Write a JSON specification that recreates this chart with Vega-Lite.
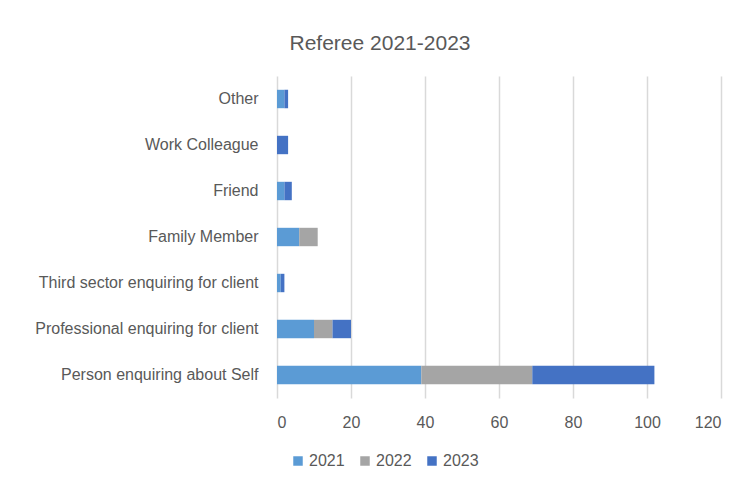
{
  "$schema": "https://vega.github.io/schema/vega-lite/v6.json",
  "width": 444,
  "height": 322,
  "autosize": {"type": "none"},
  "padding": {"left": 277, "top": 76, "right": 28, "bottom": 92},
  "background": "white",
  "title": {
    "text": "Referee 2021-2023",
    "fontSize": 21,
    "font": "Liberation Sans",
    "fontWeight": "normal",
    "color": "#595959",
    "anchor": "middle",
    "dx": -119,
    "offset": 22
  },
  "data": {
    "values": [
      {"referee": "Other", "year": "2021", "count": 2},
      {"referee": "Other", "year": "2022", "count": 0},
      {"referee": "Other", "year": "2023", "count": 1},
      {"referee": "Work Colleague", "year": "2021", "count": 0},
      {"referee": "Work Colleague", "year": "2022", "count": 0},
      {"referee": "Work Colleague", "year": "2023", "count": 3},
      {"referee": "Friend", "year": "2021", "count": 2},
      {"referee": "Friend", "year": "2022", "count": 0},
      {"referee": "Friend", "year": "2023", "count": 2},
      {"referee": "Family Member", "year": "2021", "count": 6},
      {"referee": "Family Member", "year": "2022", "count": 5},
      {"referee": "Family Member", "year": "2023", "count": 0},
      {"referee": "Third sector enquiring for client", "year": "2021", "count": 1},
      {"referee": "Third sector enquiring for client", "year": "2022", "count": 0},
      {"referee": "Third sector enquiring for client", "year": "2023", "count": 1},
      {"referee": "Professional enquiring for client", "year": "2021", "count": 10},
      {"referee": "Professional enquiring for client", "year": "2022", "count": 5},
      {"referee": "Professional enquiring for client", "year": "2023", "count": 5},
      {"referee": "Person enquiring about Self", "year": "2021", "count": 39},
      {"referee": "Person enquiring about Self", "year": "2022", "count": 30},
      {"referee": "Person enquiring about Self", "year": "2023", "count": 33}
    ]
  },
  "mark": {"type": "bar"},
  "encoding": {
    "y": {
      "field": "referee",
      "type": "nominal",
      "sort": ["Other", "Work Colleague", "Friend", "Family Member", "Third sector enquiring for client", "Professional enquiring for client", "Person enquiring about Self"],
      "scale": {"paddingInner": 0.6, "paddingOuter": 0.3},
      "axis": {
        "title": null,
        "ticks": false,
        "domain": false,
        "labelPadding": 19,
        "labelFontSize": 16,
        "labelLimit": 400,
        "labelFont": "Liberation Sans",
        "labelColor": "#595959"
      }
    },
    "x": {
      "field": "count",
      "type": "quantitative",
      "stack": "zero",
      "scale": {"domain": [0, 120], "nice": false},
      "axis": {
        "title": null,
        "values": [0, 20, 40, 60, 80, 100, 120],
        "ticks": false,
        "domain": false,
        "grid": true,
        "gridColor": "#d9d9d9",
        "gridWidth": 1.5,
        "labelPadding": 16,
        "labelFontSize": 16,
        "labelFont": "Liberation Sans",
        "labelColor": "#595959"
      }
    },
    "color": {
      "field": "year",
      "type": "nominal",
      "scale": {"domain": ["2021", "2022", "2023"], "range": ["#5B9BD5", "#A5A5A5", "#4472C4"]},
      "legend": {
        "title": null,
        "orient": "none",
        "direction": "horizontal",
        "legendX": 13,
        "legendY": 377,
        "symbolType": "square",
        "symbolSize": 90,
        "symbolStrokeWidth": 0,
        "labelFontSize": 16,
        "labelFont": "Liberation Sans",
        "labelColor": "#595959",
        "columnPadding": 12,
        "labelOffset": 3
      }
    }
  },
  "config": {
    "view": {"stroke": null}
  }
}
